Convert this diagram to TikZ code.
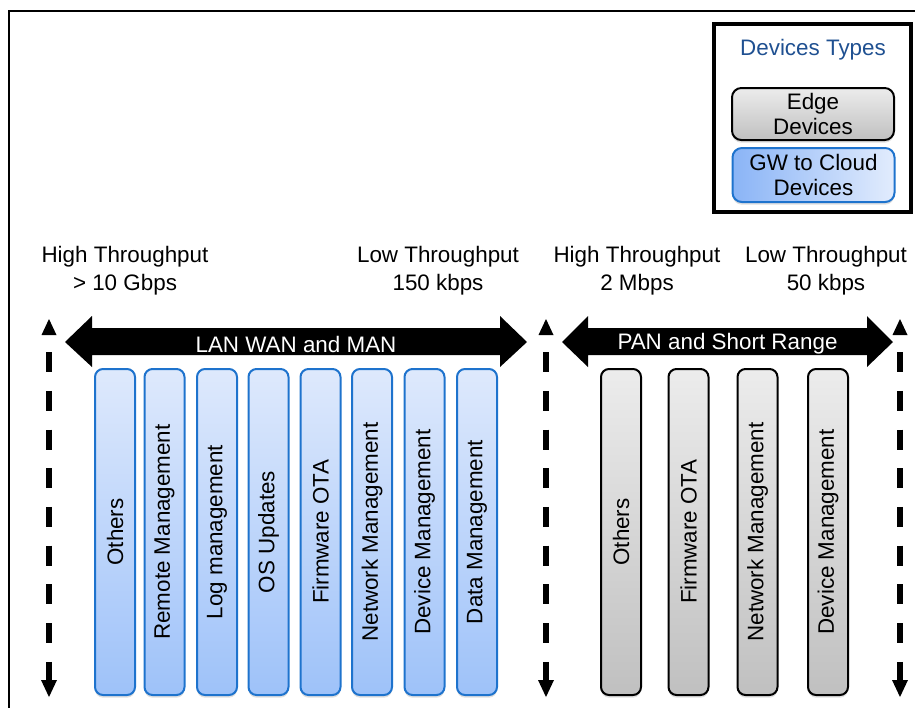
\documentclass[tikz,border=0pt]{standalone}
\usepackage{fontspec}
\usepackage{graphicx}
\setmainfont{Liberation Sans}
\usetikzlibrary{shadows}
\definecolor{legblue}{RGB}{31,80,145}
\definecolor{colborder}{RGB}{30,115,205}
\definecolor{bluetop}{RGB}{222,233,252}
\definecolor{bluebot}{RGB}{158,194,249}
\definecolor{legleft}{RGB}{138,180,246}
\definecolor{legright}{RGB}{226,236,253}
\definecolor{graytop}{RGB}{236,236,236}
\definecolor{graybot}{RGB}{192,192,192}
\tikzset{
  txt/.style={font=\fontsize{16.8}{21}\selectfont, align=center, inner sep=0pt},
  colbase/.style={rounded corners=6pt, line width=1.5pt, minimum width=30pt, minimum height=244.5pt, inner sep=0pt,
    font=\fontsize{16.8}{21}\selectfont, drop shadow={shadow xshift=0pt, shadow yshift=-2pt, opacity=0.25}},
  bluecol/.style={colbase, draw=colborder, top color=bluetop, bottom color=bluebot},
  graycol/.style={colbase, draw=black, top color=graytop, bottom color=graybot},
  legbox/.style={rounded corners=7pt, line width=1.5pt, minimum width=121.5pt, inner sep=0pt, align=center,
    font=\fontsize{16.8}{19}\selectfont, drop shadow={shadow xshift=0pt, shadow yshift=-2pt, opacity=0.25}},
  bigarrow/.style={fill=black},
  dasharrow/.style={line width=4.4pt, dash pattern=on 15pt off 14.06pt},
  tiptri/.style={fill=black}
}
\begin{document}
\begin{tikzpicture}[x=0.75pt, y=-0.75pt]
\useasboundingbox (0,0) rectangle (915,708);
% frame
\draw[line width=1.5pt] (915,11) -- (9,11) -- (9,708);

% legend
\draw[line width=3pt] (714,24) rectangle (911,212);
\node[txt, text=legblue] (legt) at (813,50) {Devices Types};
\node[legbox, draw=black, top color=graytop, bottom color=graybot, minimum height=39pt] (lege) at (813,114) {Edge\\Devices};
\node[legbox, draw=colborder, left color=legleft, right color=legright, minimum height=40.5pt] (legg) at (813.5,175) {GW to Cloud\\Devices};

% top labels
\node[txt] (l1) at (125,271) {High Throughput\\> 10 Gbps};
\node[txt] (l2) at (438,271) {Low Throughput\\150 kbps};
\node[txt] (l3) at (637,271) {High Throughput\\2 Mbps};
\node[txt] (l4) at (826,271) {Low Throughput\\50 kbps};

% dashed vertical arrows
\foreach \x/\n in {49/a,546/b,900/c}{
  \coordinate (\n top) at (\x,352);
  \coordinate (\n bot) at (\x,681);
  \draw[dasharrow] (\n top) -- (\n bot);
  \fill[tiptri] (\x,319) -- (\x-7.5,335) -- (\x+7.5,335) -- cycle;
  \fill[tiptri] (\x,697) -- (\x-8,680) -- (\x+8,680) -- cycle;
}

% big double arrows
\fill[bigarrow] (65,342) -- (92,316) -- (92,328) -- (500,328) -- (500,316) -- (527,342)
  -- (500,367) -- (500,355) -- (92,355) -- (92,367) -- cycle;
\node[txt, text=white] (lan) at (296,344) {LAN WAN and MAN};
\fill[bigarrow] (562,342) -- (588,316) -- (588,328) -- (867,328) -- (867,316) -- (893,342)
  -- (867,367) -- (867,355) -- (588,355) -- (588,367) -- cycle;
\node[txt, text=white] (pan) at (727.5,344) {PAN and Short Range};

% blue columns
\node[bluecol] (b1) at (115,532) {\rotatebox{90}{Others}};
\node[bluecol] (b2) at (164.5,532) {\rotatebox{90}{Remote Management}};
\node[bluecol] (b3) at (217,532) {\rotatebox{90}{Log management}};
\node[bluecol] (b4) at (268.5,532) {\rotatebox{90}{OS Updates}};
\node[bluecol] (b5) at (320.5,532) {\rotatebox{90}{Firmware OTA}};
\node[bluecol] (b6) at (372,532) {\rotatebox{90}{Network Management}};
\node[bluecol] (b7) at (424.5,532) {\rotatebox{90}{Device Management}};
\node[bluecol] (b8) at (477,532) {\rotatebox{90}{Data Management}};

% gray columns
\node[graycol] (g1) at (621,532) {\rotatebox{90}{Others}};
\node[graycol] (g2) at (688.5,532) {\rotatebox{90}{Firmware OTA}};
\node[graycol] (g3) at (757.5,532) {\rotatebox{90}{Network Management}};
\node[graycol] (g4) at (828,532) {\rotatebox{90}{Device Management}};
\end{tikzpicture}
\end{document}
